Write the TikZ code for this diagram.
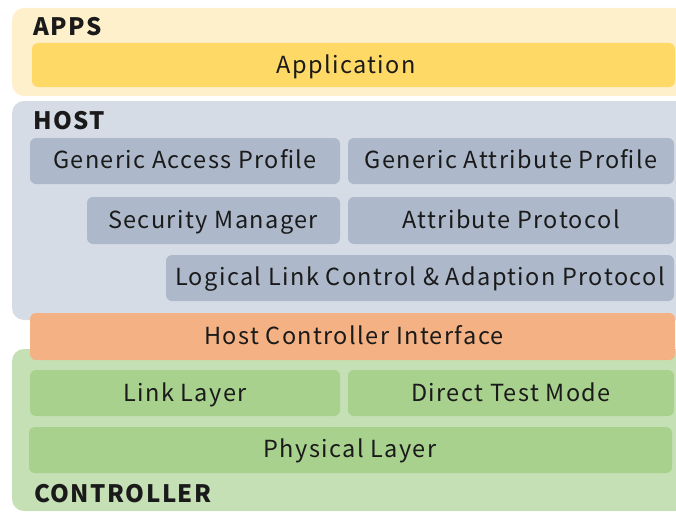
\documentclass[tikz,border=0pt]{standalone}
\usepackage{fontspec}
\setmainfont{Noto Sans CJK JP}[LetterSpace=6]
\definecolor{appsbg}{HTML}{FFF0CC}
\definecolor{appsbox}{HTML}{FFD966}
\definecolor{hostbg}{HTML}{D6DCE5}
\definecolor{hostbox}{HTML}{ADB9CA}
\definecolor{hcibox}{HTML}{F4B183}
\definecolor{ctrlbg}{HTML}{C5E0B4}
\definecolor{ctrlbox}{HTML}{A9D18E}
\definecolor{ink}{HTML}{1A1A1A}
\tikzset{
  panel/.style={rounded corners=12pt},
  layerbox/.style={rounded corners=6pt},
  boxtext/.style={text=ink, font=\fontsize{23.5}{26}\selectfont, anchor=base},
  paneltitle/.style={text=ink, font=\fontsize{24}{26}\selectfont\bfseries, anchor=base west, inner sep=0pt}
}
\begin{document}
\begin{tikzpicture}[x=1pt,y=-1pt]
\useasboundingbox (0,0) rectangle (676,511);
\clip (0,0) rectangle (676,511);
% layer panels
\fill[appsbg, panel] (12,8) rectangle (700,96);
\fill[hostbg, panel] (12,101) rectangle (700,320);
\fill[ctrlbg, panel] (12,349) rectangle (700,511);
% apps
\fill[appsbox, layerbox] (32,43) rectangle (675,87);
% host
\fill[hostbox, layerbox] (30,138) rectangle (340,184);
\fill[hostbox, layerbox] (348,138) rectangle (674,184);
\fill[hostbox, layerbox] (87,197) rectangle (340,244);
\fill[hostbox, layerbox] (348,197) rectangle (674,244);
\fill[hostbox, layerbox] (166,255) rectangle (674,301);
% interface
\fill[hcibox, layerbox] (30,313) rectangle (675,360);
% controller
\fill[ctrlbox, layerbox] (30,370) rectangle (340,416);
\fill[ctrlbox, layerbox] (348,370) rectangle (674,416);
\fill[ctrlbox, layerbox] (29,427) rectangle (672,473);
% titles
\node[paneltitle] (tapps) at (33,36) {APPS};
\node[paneltitle] (thost) at (33,129) {HOST};
\node[paneltitle] (tctrl) at (34,502) {CONTROLLER};
% box labels
\node[boxtext] (app) at (346,74) {Application};
\node[boxtext] (gap) at (185,168) {Generic Access Profile};
\node[boxtext] (gatt) at (511,168) {Generic Attribute Profile};
\node[boxtext] (sm) at (213,228) {Security Manager};
\node[boxtext] (att) at (511,228) {Attribute Protocol};
\node[boxtext] (l2cap) at (420,285) {Logical Link Control \& Adaption Protocol};
\node[boxtext] (hci) at (354,344) {Host Controller Interface};
\node[boxtext] (ll) at (185,401) {Link Layer};
\node[boxtext] (dtm) at (511,401) {Direct Test Mode};
\node[boxtext] (phy) at (350,457) {Physical Layer};
\end{tikzpicture}
\end{document}
